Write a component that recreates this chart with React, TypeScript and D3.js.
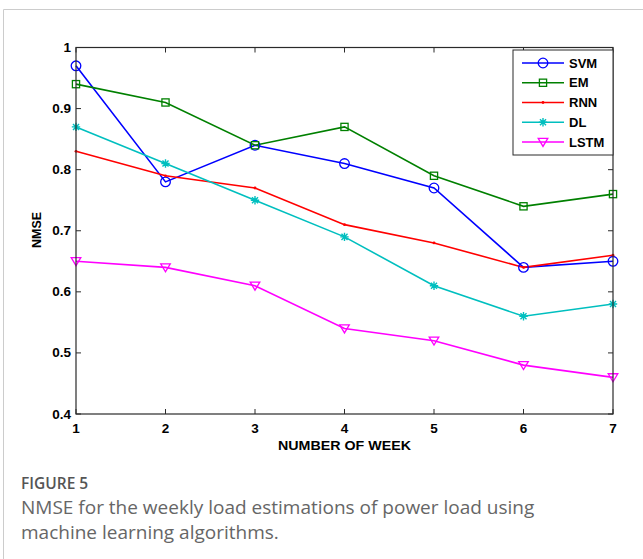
import React from "react";
import * as d3 from "d3";

// Weekly NMSE values for each algorithm
const weeks = [1, 2, 3, 4, 5, 6, 7];
const svmValues = [0.97, 0.78, 0.84, 0.81, 0.77, 0.64, 0.65];
const emValues = [0.94, 0.91, 0.84, 0.87, 0.79, 0.74, 0.76];
const rnnValues = [0.83, 0.79, 0.77, 0.71, 0.68, 0.64, 0.66];
const dlValues = [0.87, 0.81, 0.75, 0.69, 0.61, 0.56, 0.58];
const lstmValues = [0.65, 0.64, 0.61, 0.54, 0.52, 0.48, 0.46];

const seriesNames = ["SVM", "EM", "RNN", "DL", "LSTM"];
const yTickValues = [0.4, 0.5, 0.6, 0.7, 0.8, 0.9, 1];
const yTickLabels = ["0.4", "0.5", "0.6", "0.7", "0.8", "0.9", "1"];
const xTickLabels = ["1", "2", "3", "4", "5", "6", "7"];

const xTitle = "NUMBER OF WEEK";
const yTitle = "NMSE";
const figureLabel = "FIGURE 5";
const captionLines = [
  "NMSE for the weekly load estimations of power load using",
  "machine learning algorithms.",
];

type MarkerKind = "circle" | "square" | "dot" | "star" | "triangle";

const series = [
  { name: seriesNames[0], values: svmValues, color: "#0000ff", marker: "circle" as MarkerKind },
  { name: seriesNames[1], values: emValues, color: "#008000", marker: "square" as MarkerKind },
  { name: seriesNames[2], values: rnnValues, color: "#ff0000", marker: "dot" as MarkerKind },
  { name: seriesNames[3], values: dlValues, color: "#00bfbf", marker: "star" as MarkerKind },
  { name: seriesNames[4], values: lstmValues, color: "#ff00ff", marker: "triangle" as MarkerKind },
];

const W = 643;
const H = 559;
const plot = { left: 76, right: 613, top: 47.5, bottom: 414 };
const axisFont = "'Liberation Sans', Arial, Helvetica, sans-serif";
const captionFont = "'Open Sans', 'Noto Sans', sans-serif";

function Marker({ kind, cx, cy, color }: { kind: MarkerKind; cx: number; cy: number; color: string }) {
  const sw = 1.3;
  if (kind === "circle") {
    return <circle cx={cx} cy={cy} r={4.8} fill="none" stroke={color} strokeWidth={sw} />;
  }
  if (kind === "square") {
    return <rect x={cx - 3.6} y={cy - 3.6} width={7.2} height={7.2} fill="none" stroke={color} strokeWidth={sw} />;
  }
  if (kind === "dot") {
    return <circle cx={cx} cy={cy} r={1.4} fill={color} />;
  }
  if (kind === "star") {
    const r = 4.2;
    const d2 = r * 0.72;
    const d = `M${cx - r},${cy}L${cx + r},${cy}M${cx},${cy - r}L${cx},${cy + r}M${cx - d2},${cy - d2}L${cx + d2},${cy + d2}M${cx - d2},${cy + d2}L${cx + d2},${cy - d2}`;
    return <path d={d} stroke={color} strokeWidth={1.4} fill="none" />;
  }
  const tri = `M${cx - 4.8},${cy - 3.6}L${cx + 4.8},${cy - 3.6}L${cx},${cy + 4.4}Z`;
  return <path d={tri} fill="none" stroke={color} strokeWidth={sw} />;
}

export default function App() {
  const x = d3.scaleLinear().domain([1, 7]).range([plot.left, plot.right]);
  const y = d3.scaleLinear().domain([0.4, 1]).range([plot.bottom, plot.top]);
  const line = d3
    .line<number>()
    .x((_, i) => x(weeks[i]))
    .y((v) => y(v));

  const tickLen = 5;
  const frameColor = "#2a2a2a";

  const legend = { left: 513, top: 50, right: 613, bottom: 155, firstRow: 63, rowStep: 19.75 };

  return (
    <svg
      width={W}
      height={H}
      style={{ position: "absolute", left: 0, top: 0, background: "#fff" }}
    >
      {/* card border */}
      <path d={`M3.5,${H}L3.5,9.5L${W},9.5`} fill="none" stroke="#cccccc" strokeWidth={1} />

      {/* ticks on all four sides, pointing inward */}
      {weeks.map((w) => (
        <g key={`xt${w}`} stroke={frameColor} strokeWidth={1}>
          <line x1={x(w)} x2={x(w)} y1={plot.bottom} y2={plot.bottom - tickLen} />
          <line x1={x(w)} x2={x(w)} y1={plot.top} y2={plot.top + tickLen} />
        </g>
      ))}
      {yTickValues.map((v) => (
        <g key={`yt${v}`} stroke={frameColor} strokeWidth={1}>
          <line x1={plot.left} x2={plot.left + tickLen} y1={y(v)} y2={y(v)} />
          <line x1={plot.right} x2={plot.right - tickLen} y1={y(v)} y2={y(v)} />
        </g>
      ))}

      {/* series lines */}
      {series.map((s) => (
        <path key={`l${s.name}`} d={line(s.values) || ""} fill="none" stroke={s.color} strokeWidth={1.6} />
      ))}
      {series.map((s) =>
        s.values.map((v, i) => (
          <Marker key={`m${s.name}${i}`} kind={s.marker} cx={x(weeks[i])} cy={y(v)} color={s.color} />
        ))
      )}

      {/* axes frame */}
      <rect
        x={plot.left}
        y={plot.top}
        width={plot.right - plot.left}
        height={plot.bottom - plot.top}
        fill="none"
        stroke={frameColor}
        strokeWidth={1.2}
      />

      {/* tick labels */}
      {yTickValues.map((v, i) => (
        <text
          key={`yl${v}`}
          x={plot.left - 5}
          y={y(v) + 4.5}
          textAnchor="end"
          fontFamily={axisFont}
          fontWeight="bold"
          fontSize={13.5}
          fill="#000"
        >
          {yTickLabels[i]}
        </text>
      ))}
      {weeks.map((w, i) => (
        <text
          key={`xl${w}`}
          x={x(w)}
          y={plot.bottom + 18.5}
          textAnchor="middle"
          fontFamily={axisFont}
          fontWeight="bold"
          fontSize={13.5}
          fill="#000"
        >
          {xTickLabels[i]}
        </text>
      ))}

      {/* axis titles */}
      <text
        x={(plot.left + plot.right) / 2}
        y={450}
        textAnchor="middle"
        fontFamily={axisFont}
        fontWeight="bold"
        fontSize={12.5}
        textLength={133}
        lengthAdjust="spacingAndGlyphs"
        fill="#000"
      >
        {xTitle}
      </text>
      <text
        transform={`translate(41,230) rotate(-90)`}
        textAnchor="middle"
        fontFamily={axisFont}
        fontWeight="bold"
        fontSize={12.5}
        fill="#000"
      >
        {yTitle}
      </text>

      {/* legend */}
      <rect
        x={legend.left}
        y={legend.top}
        width={legend.right - legend.left}
        height={legend.bottom - legend.top}
        fill="#fff"
        stroke={frameColor}
        strokeWidth={1}
      />
      {series.map((s, i) => {
        const ly = legend.firstRow + i * legend.rowStep;
        return (
          <g key={`lg${s.name}`}>
            <line x1={522} x2={564} y1={ly} y2={ly} stroke={s.color} strokeWidth={1.6} />
            <Marker kind={s.marker} cx={543} cy={ly} color={s.color} />
            <text
              x={569}
              y={ly + 4.6}
              fontFamily={axisFont}
              fontWeight="bold"
              fontSize={13}
              fill="#000"
            >
              {s.name}
            </text>
          </g>
        );
      })}

      {/* caption */}
      <text x={21} y={489} fontFamily={captionFont} fontWeight={600} fontSize={15.5} fill="#555">
        {figureLabel}
      </text>
      {captionLines.map((t, i) => (
        <text key={`c${i}`} x={21} y={514 + i * 25} fontFamily={captionFont} fontSize={19} fill="#666">
          {t}
        </text>
      ))}
    </svg>
  );
}
